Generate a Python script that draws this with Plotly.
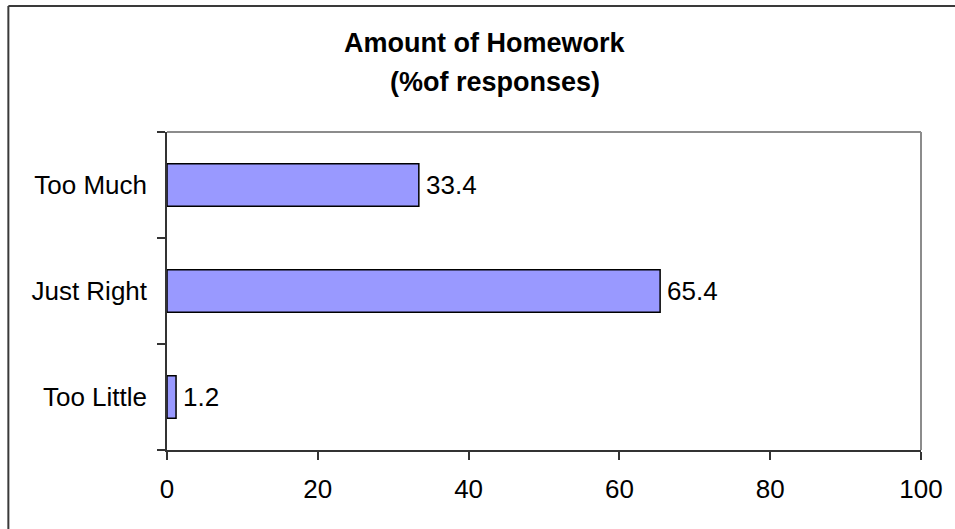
import plotly.graph_objects as go

categories = ["Too Little", "Just Right", "Too Much"]
values = [1.2, 65.4, 33.4]
x_ticks = [0, 20, 40, 60, 80, 100]
title_line1 = "Amount of Homework"
title_line2 = "(%of responses)"

FONT = "Liberation Sans, Arial, sans-serif"
TICK_SIZE = 26

fig = go.Figure(
    go.Bar(
        y=categories,
        x=values,
        orientation="h",
        width=0.4,
        marker=dict(color="#9999FF", line=dict(color="black", width=1.5)),
        hoverinfo="x+y",
    )
)

value_labels = [
    dict(text=f"{v:.1f}", x=v, y=c, xref="x", yref="y", xanchor="left", yanchor="middle",
         xshift=5, showarrow=False, font=dict(family=FONT, size=TICK_SIZE, color="black"))
    for c, v in zip(categories, values)
]

fig.update_layout(
    width=955,
    height=529,
    margin=dict(l=167, r=29, t=132, b=79),
    paper_bgcolor="white",
    plot_bgcolor="white",
    showlegend=False,
    font=dict(family=FONT, size=TICK_SIZE, color="black"),
    xaxis=dict(
        range=[0, 100],
        tickvals=x_ticks,
        ticks="outside",
        ticklen=8,
        tickwidth=1.5,
        tickcolor="#333",
        showline=True,
        linecolor="#333",
        linewidth=1.5,
        showgrid=False,
        zeroline=False,
        tickfont=dict(family=FONT, size=TICK_SIZE, color="black"),
        ticklabelstandoff=7,
    ),
    yaxis=dict(
        type="category",
        categoryorder="array",
        categoryarray=categories,
        range=[-0.5, 2.5],
        tickson="boundaries",
        ticks="outside",
        ticklen=8,
        tickwidth=1.5,
        tickcolor="#333",
        showline=True,
        linecolor="#333",
        linewidth=1.5,
        showgrid=False,
        zeroline=False,
        tickfont=dict(family=FONT, size=TICK_SIZE, color="black"),
        ticklabelstandoff=13,
    ),
    shapes=[
        # plot area top/right border (gray)
        dict(type="line", xref="paper", yref="paper", x0=0, x1=1, y0=1, y1=1,
             line=dict(color="#8c8c8c", width=2)),
        dict(type="line", xref="paper", yref="paper", x0=1, x1=1, y0=0, y1=1,
             line=dict(color="#8c8c8c", width=2)),
        # outer chart border (left and top visible)
        dict(type="line", xref="paper", yref="paper", x0=-0.2104, x1=-0.2104, y0=-0.4, y1=1.396,
             line=dict(color="#3a3a3a", width=2)),
        dict(type="line", xref="paper", yref="paper", x0=-0.2104, x1=1.2, y0=1.396, y1=1.396,
             line=dict(color="#3a3a3a", width=2)),
    ],
    annotations=[
        dict(text="<b>" + title_line1 + "</b>", xref="paper", yref="paper",
             x=0.4216, y=1.28, xanchor="center", yanchor="middle", showarrow=False,
             font=dict(family=FONT, size=27, color="black")),
        dict(text="<b>" + title_line2 + "</b>", xref="paper", yref="paper",
             x=0.4348, y=1.157, xanchor="center", yanchor="middle", showarrow=False,
             font=dict(family=FONT, size=27, color="black")),
    ] + value_labels,
)

fig.write_html(
    "out.html",
    config={"displayModeBar": False},
    post_script="document.body.style.margin='0px';document.body.style.overflow='hidden';",
)
